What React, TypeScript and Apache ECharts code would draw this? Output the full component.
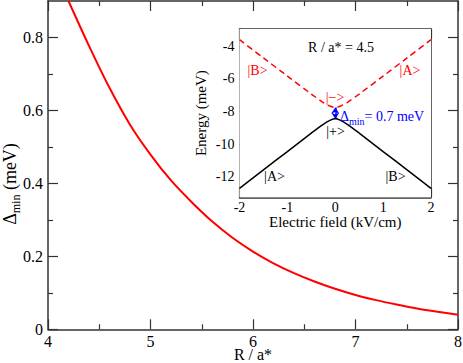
import React, { useEffect, useRef } from "react";
import * as echarts from "echarts";

// Main panel: minimum gap vs R / a*
const rValues = [4.2, 4.4, 4.6, 4.8, 5.0, 5.2, 5.4, 5.6, 5.8, 6.0, 6.2, 6.4, 6.6, 6.8, 7.0, 7.2, 7.4, 7.6, 7.8, 8.0];
const deltaMin = [0.9, 0.777, 0.662, 0.561, 0.479, 0.408, 0.349, 0.296, 0.251, 0.213, 0.181, 0.154, 0.131, 0.111, 0.094, 0.08, 0.068, 0.057, 0.048, 0.04];

// Inset: energies vs electric field
const fieldValues = [-2, -1.5, -1, -0.5, -0.25, -0.1, 0, 0.1, 0.25, 0.5, 1, 1.5, 2];
const upperEnergy = [-3.6, -4.72, -5.83, -6.93, -7.45, -7.68, -7.75, -7.68, -7.45, -6.93, -5.83, -4.72, -3.6];
const lowerEnergy = [-12.7, -11.57, -10.45, -9.32, -8.78, -8.53, -8.45, -8.53, -8.78, -9.32, -10.45, -11.57, -12.7];
const gapField = 0;
const gapTop = -7.75;
const gapBottom = -8.45;

// Tick values
const mainYTicks = [0, 0.2, 0.4, 0.6, 0.8];
const mainYMinor = [0.1, 0.3, 0.5, 0.7];
const insetYTicks = [-12, -10, -8, -6, -4];
const insetYMinor = [-13, -11, -9, -7, -5, -3];

const FONT = "Liberation Serif";
const AXIS_COLOR = "#333";

export default function App() {
  const ref = useRef<HTMLDivElement>(null);

  useEffect(() => {
    document.body.style.margin = "0";
    if (!ref.current) return;
    const chart = echarts.init(ref.current, undefined, { renderer: "svg" });

    const axisLine = { show: true, onZero: false, lineStyle: { color: AXIS_COLOR, width: 1.5 } };
    const label = (size: number, margin: number) => ({
      fontSize: size,
      lineHeight: size,
      fontFamily: FONT,
      color: "#000",
      margin,
      showMinLabel: true,
      showMaxLabel: true,
    });

    const xAxisPair = (grid: number, min: number, max: number, size: number, margin: number, name: string, nameGap: number, nameSize: number) => [
      {
        type: "value", gridIndex: grid, min, max, interval: 1, position: "bottom",
        axisLine,
        axisTick: { show: true, inside: true, length: 10, lineStyle: { color: AXIS_COLOR, width: 1.2 } },
        minorTick: { show: true, splitNumber: 2, length: 5, lineStyle: { color: AXIS_COLOR, width: 1.2 } },
        axisLabel: label(size, margin),
        splitLine: { show: false }, minorSplitLine: { show: false },
        name, nameLocation: "middle", nameGap, nameMoveOverlap: false,
        nameTextStyle: { fontFamily: FONT, fontSize: nameSize, lineHeight: nameSize, color: "#000" },
      },
      {
        type: "value", gridIndex: grid, min, max, interval: 1, position: "top",
        axisLine,
        axisTick: { show: true, inside: true, length: 10, lineStyle: { color: AXIS_COLOR, width: 1.2 } },
        minorTick: { show: true, splitNumber: 2, length: 5, lineStyle: { color: AXIS_COLOR, width: 1.2 } },
        axisLabel: { show: false },
        splitLine: { show: false }, minorSplitLine: { show: false },
      },
    ];

    const yAxisSet = (grid: number, min: number, max: number, major: number[], minor: number[], size: number, margin: number, name: string, nameGap: number, nameSize: number) => {
      const res: any[] = [];
      (["left", "right"] as const).forEach((pos) => {
        res.push({
          type: "value", gridIndex: grid, min, max, position: pos,
          axisLine,
          axisTick: { show: true, inside: true, length: 10, customValues: major, lineStyle: { color: AXIS_COLOR, width: 1.2 } },
          axisLabel: pos === "left" ? { ...label(size, margin), customValues: major } : { show: false },
          splitLine: { show: false },
          name: pos === "left" ? name : "",
          nameLocation: "middle", nameGap, nameMoveOverlap: false,
          nameTextStyle: { fontFamily: FONT, fontSize: nameSize, lineHeight: nameSize, color: "#000" },
        });
        res.push({
          type: "value", gridIndex: grid, min, max, position: pos,
          axisLine: { show: false },
          axisTick: { show: true, inside: true, length: 5, customValues: minor, lineStyle: { color: AXIS_COLOR, width: 1.2 } },
          axisLabel: { show: false },
          splitLine: { show: false },
        });
      });
      return res;
    };

    const xAxes = [
      ...xAxisPair(0, 4, 8, 16, 4, "R / a*", 17, 16),
      ...xAxisPair(1, -2, 2, 14, 3, "Electric field (kV/cm)", 17, 15),
    ];
    const yAxes = [
      ...yAxisSet(0, 0, 0.9, mainYTicks, mainYMinor, 16, 5, "", 0, 16),
      ...yAxisSet(1, -13.25, -2.95, insetYTicks, insetYMinor, 14, 5, "Energy (meV)", 31, 15),
    ];

    const txt = (x: number, y: number, text: string, color: string, size = 14) => ({
      type: "text", x, y, z: 100,
      style: { text, fill: color, fontFamily: FONT, fontSize: size, align: "center", verticalAlign: "middle" },
    });

    chart.setOption({
      animation: false,
      backgroundColor: "#fff",
      textStyle: { fontFamily: FONT },
      grid: [
        { left: 48, top: 1, right: 5, bottom: 33.7, outerBoundsMode: "none", containLabel: false },
        { left: 239.5, top: 29, width: 191.5, height: 168.3, show: true, backgroundColor: "#fff", borderWidth: 0, z: 3, outerBoundsMode: "none", containLabel: false },
      ],
      xAxis: xAxes,
      yAxis: yAxes,
      series: [
        {
          type: "line", xAxisIndex: 0, yAxisIndex: 0,
          data: rValues.map((r, i) => [r, deltaMin[i]]),
          showSymbol: false, smooth: 0.3, clip: true,
          lineStyle: { color: "#ff0000", width: 2 },
        },
        {
          type: "line", xAxisIndex: 2, yAxisIndex: 4, z: 5,
          data: fieldValues.map((f, i) => [f, upperEnergy[i]]),
          showSymbol: false, smooth: 0.3,
          lineStyle: { color: "#ff0000", width: 1.5, type: [6, 4] },
        },
        {
          type: "line", xAxisIndex: 2, yAxisIndex: 4, z: 5,
          data: fieldValues.map((f, i) => [f, lowerEnergy[i]]),
          showSymbol: false, smooth: 0.3,
          lineStyle: { color: "#000", width: 1.5 },
          markLine: {
            silent: true,
            symbol: ["arrow", "arrow"],
            symbolSize: [6, 6],
            label: { show: false },
            lineStyle: { color: "#0000ff", width: 1.5, type: "solid" },
            data: [[{ coord: [gapField, gapTop] }, { coord: [gapField, gapBottom] }]],
          },
        },
      ],
      graphic: [
        {
          type: "text", x: 10, y: 184, rotation: Math.PI / 2, z: 100,
          style: {
            text: "{d|Δ}{s|min}{n| (meV)}",
            align: "center", verticalAlign: "middle",
            rich: {
              d: { fontSize: 18, fontFamily: FONT, fill: "#000", lineHeight: 24 },
              s: { fontSize: 12, fontFamily: FONT, fill: "#000", verticalAlign: "bottom", lineHeight: 24 },
              n: { fontSize: 18, fontFamily: FONT, fill: "#000", lineHeight: 24 },
            },
          },
        },
        txt(341, 47.5, "R / a* = 4.5", "#000", 14),
        txt(257.5, 70, "|B>", "#ff0000", 14),
        txt(410, 70.5, "|A>", "#ff0000", 14),
        txt(335, 97.5, "|−>", "#ff0000", 14),
        txt(335.5, 131, "|+>", "#000", 14),
        txt(274.5, 176.5, "|A>", "#000", 14),
        txt(395.5, 176.5, "|B>", "#000", 14),
        {
          type: "text", x: 340, y: 116, z: 100,
          style: {
            text: "{d|Δ}{s|min}{n|= 0.7 meV}",
            align: "left", verticalAlign: "middle",
            rich: {
              d: { fontSize: 14, fontFamily: FONT, fill: "#0000ff", lineHeight: 20 },
              s: { fontSize: 10, fontFamily: FONT, fill: "#0000ff", verticalAlign: "bottom", lineHeight: 20 },
              n: { fontSize: 14, fontFamily: FONT, fill: "#0000ff", lineHeight: 20 },
            },
          },
        },
      ],
    });

    return () => chart.dispose();
  }, []);

  return <div ref={ref} style={{ width: 463, height: 363 }} />;
}
